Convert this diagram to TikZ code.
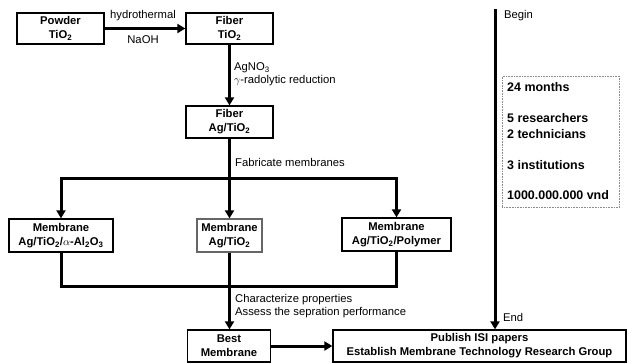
\documentclass[tikz,border=0pt]{standalone}
\usepackage{fontspec}
\setmainfont{Liberation Sans}
\usetikzlibrary{arrows.meta}
\begin{document}
\begin{tikzpicture}[x=1bp,y=-1bp,
  box/.style={draw, line width=1.3bp, font=\bfseries\fontsize{11.3}{14}\selectfont, align=center, inner sep=0pt},
  flow/.style={line width=3bp, -{Triangle[length=8bp,width=9bp]}},
  link/.style={line width=3bp},
  lbl/.style={font=\fontsize{11.3}{13}\selectfont, inner sep=0pt},
  info/.style={font=\bfseries\fontsize{12.5}{14}\selectfont, inner sep=0pt, anchor=west}]
\useasboundingbox (0,0) rectangle (627,363);

% boxes
\node[box, minimum width=87bp, minimum height=31bp] (powder) at (60.5,28.5) {Powder\\TiO\textsubscript{2}};
\node[box, minimum width=87bp, minimum height=31bp] (fib1) at (229.5,28.5) {Fiber\\TiO\textsubscript{2}};
\node[box, minimum width=87bp, minimum height=32bp] (fib2) at (229.5,122) {Fiber\\Ag/TiO\textsubscript{2}};
\node[box, minimum width=104bp, minimum height=33bp] (left) at (61,235.5) {Membrane\\Ag/TiO\textsubscript{2}/$\alpha$-Al\textsubscript{2}O\textsubscript{3}};
\node[box, draw=black!60, minimum width=65bp, minimum height=33bp] (mid) at (229.5,235.5) {Membrane\\Ag/TiO\textsubscript{2}};
\node[box, minimum width=109bp, minimum height=33bp] (right) at (396.5,234.5) {Membrane\\Ag/TiO\textsubscript{2}/Polymer};
\node[box, minimum width=83bp, minimum height=32bp] (best) at (229,346) {Best\\Membrane};
\node[box, minimum width=293bp, minimum height=32bp] (pub) at (479.5,346) {Publish ISI papers\\Establish Membrane Technology Research Group};

% connectors
\draw[flow] (powder.east) -- (fib1.west);
\draw[flow] (fib1.south) -- (fib2.north);
\coordinate (split) at (229.5,178);
\draw[link] (fib2.south) -- (split);
\draw[flow] (split) -| (left.north);
\draw[flow] (split) -| (right.north);
\draw[flow] (split) -- (mid.north);
\coordinate (join) at (229.5,286);
\draw[link] (left.south) |- (join);
\draw[link] (right.south) |- (join);
\draw[link] (mid.south) -- (join);
\draw[flow] (join) -- (join |- best.north);
\draw[flow] (best.east) -- (pub.west);
\coordinate (tl) at (495,9);
\draw[flow] (tl) -- (tl |- pub.north);

% labels
\node[lbl] (l1) at (143,16) {hydrothermal};
\node[lbl] (l2) at (143,40) {NaOH};
\node[lbl, anchor=west] (l3) at (234,68) {AgNO\textsubscript{3}};
\node[lbl, anchor=west] (l4) at (234,81) {$\gamma$-radolytic reduction};
\node[lbl, anchor=west] (l5) at (235,162) {Fabricate membranes};
\node[lbl, anchor=west] (l6) at (235,300) {Characterize properties};
\node[lbl, anchor=west] (l7) at (235,313) {Assess the sepration performance};
\node[lbl, anchor=west] (l8) at (504,16) {Begin};
\node[lbl, anchor=west] (l9) at (503,317) {End};

% info box
\node[draw=black!45, densely dotted, line width=0.6bp, minimum width=117bp, minimum height=131bp, anchor=north west, inner sep=0pt] (infobox) at (502,76) {};
\node[info] (i1) at (507,87) {24 months};
\node[info] (i2) at (507,118) {5 researchers};
\node[info] (i3) at (507,134) {2 technicians};
\node[info] (i4) at (507,165) {3 institutions};
\node[info] (i5) at (507,195) {1000.000.000 vnd};
\end{tikzpicture}
\end{document}
